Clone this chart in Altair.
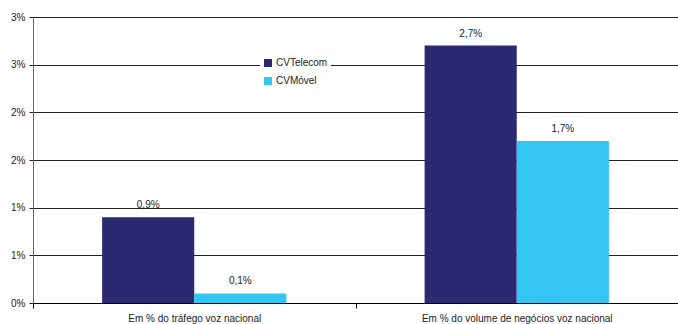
import altair as alt
import pandas as pd

# Categories, series and values (percent)
categories = ["Em % do tráfego voz nacional", "Em % do volume de negócios voz nacional"]
series = ["CVTelecom", "CVMóvel"]
cvtelecom = [0.9, 2.7]
cvmovel = [0.1, 1.7]
y_ticks = [0, 0.5, 1.0, 1.5, 2.0, 2.5, 3.0]
colors = ["#2B2A70", "#33C6F2"]

FONT = "Liberation Sans"

rows = []
for i, cat in enumerate(categories):
    for name, vals in zip(series, [cvtelecom, cvmovel]):
        rows.append({
            "categoria": cat,
            "operador": name,
            "valor": vals[i],
            "rotulo": f"{vals[i]:.1f}%".replace(".", ","),
        })
df = pd.DataFrame(rows)

base = alt.Chart(df).encode(
    x=alt.X(
        "categoria:N",
        sort=categories,
        scale=alt.Scale(paddingInner=0, paddingOuter=0),
        axis=alt.Axis(
            title=None,
            labelAngle=0,
            tickBand="extent",
            ticks=True,
            tickSize=5,
            tickColor="#000",
            domainColor="#000",
            labelFont=FONT,
            labelFontSize=10,
            labelColor="#222",
            labelPadding=5,
            labelLimit=0,
            grid=False,
        ),
    ),
    xOffset=alt.XOffset(
        "operador:N",
        sort=series,
        scale=alt.Scale(paddingOuter=0.75, paddingInner=0),
    ),
    y=alt.Y(
        "valor:Q",
        scale=alt.Scale(domain=[0, 3], nice=False, zero=True),
        axis=alt.Axis(
            title=None,
            values=y_ticks,
            labelExpr="format(datum.value, '.0f') + '%'",
            grid=True,
            gridColor="#222",
            gridWidth=1,
            domainColor="#666",
            tickColor="#222",
            tickSize=4,
            labelFont=FONT,
            labelFontSize=10,
            labelColor="#222",
            labelPadding=4,
        ),
    ),
)

bars = base.mark_bar().encode(
    color=alt.Color(
        "operador:N",
        sort=series,
        scale=alt.Scale(domain=series, range=colors),
        legend=alt.Legend(
            title=None,
            orient="none",
            legendX=227,
            legendY=38,
            fillColor="white",
            padding=3,
            symbolType="square",
            symbolSize=64,
            symbolStrokeWidth=0,
            labelFont=FONT,
            labelFontSize=10,
            labelColor="#222",
            labelOffset=3,
            rowPadding=8,
        ),
    )
)

labels = base.mark_text(
    baseline="bottom", dy=-7, fontSize=10, font=FONT, color="#222"
).encode(text="rotulo:N")

chart = (
    alt.layer(bars, labels)
    .properties(
        width=645,
        height=286,
        autosize=alt.AutoSizeParams(type="none"),
        padding={"left": 33, "top": 17, "right": 0, "bottom": 21},
    )
    .configure_view(stroke=None)
)

chart.save("out.html", embed_options={"renderer": "svg", "actions": False})
